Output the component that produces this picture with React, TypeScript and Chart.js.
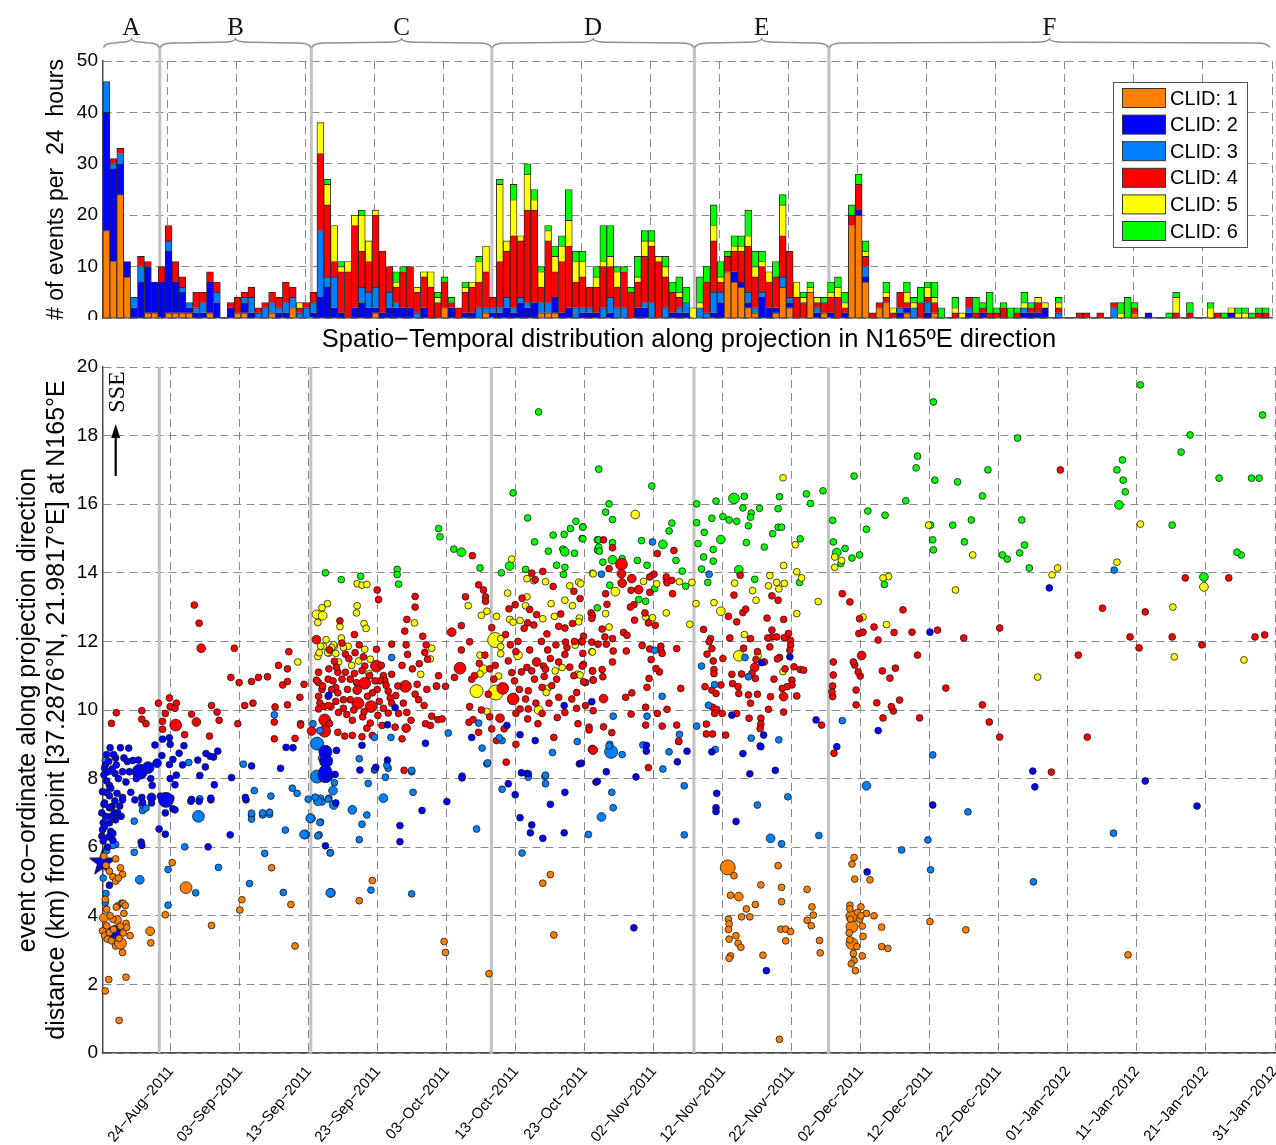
import React, { useEffect, useRef } from "react";
import { Chart, registerables } from "chart.js";

Chart.register(...registerables);

const SANS = "'Liberation Sans', Arial, Helvetica, sans-serif";
const SERIF = "'Liberation Serif', 'Times New Roman', serif";
Chart.defaults.font.family = SANS;
Chart.defaults.color = "#000";

// Time axis: day 0 = 24-Aug-2011 (UTC)
const BASE_DATE_UTC = Date.UTC(2011, 7, 24);
const MONTHS = ["Jan", "Feb", "Mar", "Apr", "May", "Jun", "Jul", "Aug", "Sep", "Oct", "Nov", "Dec"];
const DATE_TICKS = [0, 10, 20, 30, 40, 50, 60, 70, 80, 90, 100, 110, 120, 130, 140, 150, 160];
const HIST_X_MIN = -9.4;
const MAP_X_MIN = -9.83;
const X_MAX = 160;

const CLID_LABELS = ["CLID: 1", "CLID: 2", "CLID: 3", "CLID: 4", "CLID: 5", "CLID: 6"];
const CLID_COLORS = ["#FF8000", "#0000FF", "#0080FF", "#FF0000", "#FFFF00", "#00FF00"];

const MAP_TITLE = "Spatio\u2212Temporal distribution along projection in N165\u00BAE direction";

// Section boundaries (days) and their labels
const SECTION_BOUNDS = [-1.67, 20.29, 46.45, 75.8, 95.29];
const SECTION_LABELS = ["A", "B", "C", "D", "E", "F"];

// 24-hour bins, first bin starts at FIRST_BIN_DAY
const FIRST_BIN_DAY = -9.4;
const COUNTS_CLID1 = [
  17, 11, 24, 8, 0, 0, 1, 1, 0, 1,
  1, 1, 1, 0, 0, 1, 0, 0, 0, 1,
  1, 0, 0, 0, 1, 0, 0, 2, 0, 0,
  0, 0, 0, 0, 0, 0, 0, 0, 0, 1,
  0, 0, 0, 0, 0, 0, 0, 0, 0, 2,
  0, 0, 0, 0, 0, 1, 0, 0, 0, 0,
  0, 0, 0, 1, 1, 1, 0, 0, 0, 0,
  0, 0, 0, 0, 0, 0, 0, 0, 0, 0,
  0, 0, 0, 0, 0, 0, 0, 0, 0, 0,
  9, 7, 6, 2, 1, 0, 0, 1, 6, 2,
  0, 0, 5, 0, 1, 0, 0, 0, 18, 20,
  7, 0, 2, 3, 0, 0, 1, 0, 0, 0,
  1, 0, 0, 0, 0, 0, 0, 0, 0, 0,
  0, 0, 0, 0, 0, 0, 0, 0, 0, 0,
  0, 0, 0, 0, 0, 0, 0, 0, 0, 1,
  0, 0, 0, 0, 0, 0, 0, 0, 0, 0,
  0, 0, 0, 0, 0, 0, 0, 0, 0,
];
const COUNTS_CLID2 = [
  23, 18, 6, 3, 2, 7, 9, 6, 7, 12,
  6, 4, 1, 1, 1, 6, 3, 0, 2, 0,
  2, 1, 0, 0, 0, 1, 1, 0, 0, 0,
  1, 4, 6, 2, 1, 0, 2, 3, 2, 1,
  1, 2, 2, 2, 2, 0, 2, 0, 0, 0,
  2, 0, 1, 1, 0, 0, 1, 1, 2, 1,
  3, 2, 3, 0, 0, 3, 1, 2, 0, 1,
  1, 1, 0, 1, 0, 0, 0, 2, 2, 0,
  0, 0, 1, 1, 1, 0, 0, 0, 1, 3,
  0, 2, 1, 1, 0, 4, 2, 1, 0, 1,
  0, 0, 0, 1, 0, 1, 0, 1, 0, 1,
  1, 0, 0, 0, 0, 1, 1, 0, 0, 1,
  0, 0, 0, 0, 0, 1, 0, 1, 0, 0,
  0, 0, 0, 1, 1, 1, 2, 0, 0, 0,
  0, 0, 0, 0, 0, 0, 0, 0, 0, 0,
  0, 1, 0, 0, 0, 0, 0, 0, 0, 0,
  0, 0, 0, 1, 0, 0, 0, 0, 0,
];
const COUNTS_CLID3 = [
  6, 1, 2, 0, 2, 3, 0, 0, 0, 2,
  0, 1, 1, 1, 2, 0, 2, 0, 0, 0,
  1, 3, 1, 2, 2, 1, 2, 2, 1, 2,
  2, 13, 2, 6, 0, 0, 0, 3, 3, 4,
  0, 3, 1, 0, 0, 1, 0, 0, 0, 0,
  0, 0, 0, 0, 2, 1, 1, 1, 2, 1,
  1, 1, 0, 2, 2, 0, 0, 0, 2, 1,
  1, 0, 2, 3, 2, 2, 0, 0, 1, 3,
  0, 2, 0, 1, 2, 0, 2, 1, 4, 2,
  0, 0, 0, 2, 1, 1, 0, 0, 2, 1,
  0, 0, 0, 1, 0, 0, 0, 0, 0, 0,
  2, 0, 0, 0, 0, 1, 0, 2, 0, 2,
  0, 0, 0, 0, 0, 1, 0, 0, 0, 0,
  0, 0, 0, 1, 0, 0, 0, 0, 1, 0,
  0, 0, 0, 0, 0, 0, 2, 0, 0, 0,
  0, 0, 0, 0, 0, 0, 0, 0, 0, 0,
  0, 0, 0, 0, 0, 0, 0, 0, 0,
];
const COUNTS_CLID4 = [
  0, 1, 1, 0, 0, 2, 1, 0, 3, 3,
  4, 2, 0, 3, 2, 2, 2, 0, 1, 3,
  1, 2, 1, 1, 2, 2, 4, 2, 1, 1,
  2, 15, 14, 3, 8, 9, 16, 7, 6, 14,
  12, 5, 3, 7, 8, 4, 6, 6, 3, 5,
  1, 2, 4, 5, 5, 7, 2, 9, 9, 14,
  11, 18, 18, 3, 12, 5, 10, 12, 5, 6,
  4, 5, 8, 6, 4, 7, 5, 5, 9, 11,
  11, 6, 4, 2, 0, 0, 0, 6, 10, 2,
  3, 4, 6, 9, 6, 5, 5, 6, 8, 9,
  4, 3, 0, 1, 2, 3, 4, 1, 2, 5,
  2, 1, 1, 1, 1, 3, 1, 0, 3, 1,
  2, 0, 0, 1, 0, 2, 1, 1, 1, 1,
  2, 0, 1, 0, 1, 2, 0, 0, 1, 0,
  0, 1, 1, 0, 1, 0, 1, 0, 0, 1,
  0, 0, 0, 0, 0, 1, 0, 1, 0, 0,
  0, 1, 0, 0, 0, 0, 0, 1, 1,
];
const COUNTS_CLID5 = [
  0, 0, 0, 0, 0, 0, 0, 0, 0, 0,
  0, 0, 0, 0, 0, 0, 0, 0, 0, 0,
  0, 0, 0, 0, 0, 0, 0, 0, 1, 0,
  0, 6, 4, 7, 1, 2, 2, 7, 4, 1,
  0, 0, 1, 0, 0, 1, 1, 3, 1, 0,
  0, 0, 1, 1, 4, 5, 0, 15, 2, 7,
  1, 7, 2, 3, 2, 3, 3, 5, 4, 3,
  0, 2, 1, 2, 3, 0, 0, 1, 3, 1,
  1, 2, 0, 1, 0, 2, 1, 0, 3, 1,
  0, 1, 1, 2, 2, 1, 2, 0, 6, 0,
  3, 1, 1, 1, 0, 1, 2, 1, 0, 0,
  1, 0, 0, 1, 1, 0, 2, 1, 0, 2,
  1, 0, 0, 1, 1, 0, 0, 0, 0, 0,
  0, 0, 0, 1, 0, 1, 1, 0, 1, 0,
  0, 0, 0, 0, 0, 0, 0, 1, 0, 0,
  0, 0, 0, 0, 0, 3, 0, 0, 0, 0,
  2, 0, 0, 1, 1, 1, 0, 0, 0,
];
const COUNTS_CLID6 = [
  0, 0, 0, 0, 0, 0, 0, 0, 0, 0,
  0, 0, 0, 0, 0, 0, 0, 0, 0, 0,
  0, 0, 0, 0, 0, 0, 0, 0, 0, 0,
  0, 0, 1, 0, 1, 0, 0, 1, 0, 0,
  0, 0, 2, 1, 0, 0, 0, 0, 1, 1,
  1, 0, 1, 0, 1, 0, 0, 1, 0, 3,
  0, 2, 2, 1, 1, 2, 2, 6, 2, 2,
  0, 2, 7, 6, 1, 1, 1, 4, 2, 2,
  0, 2, 2, 3, 3, 0, 5, 3, 4, 3,
  1, 2, 2, 5, 3, 2, 0, 3, 2, 0,
  0, 1, 1, 0, 1, 2, 2, 2, 2, 2,
  2, 0, 0, 2, 0, 0, 2, 1, 3, 1,
  3, 2, 0, 2, 0, 0, 3, 1, 4, 1,
  1, 2, 1, 2, 1, 0, 0, 0, 1, 0,
  0, 0, 0, 0, 0, 0, 0, 2, 4, 1,
  0, 0, 0, 0, 1, 1, 0, 2, 0, 0,
  1, 0, 1, 0, 1, 1, 1, 1, 1,
];

// Events: [day, distance km, magnitude (optional, default 1.5)]
const EVENTS_CLID1 = [
  [-8.0, 5.66], [-7.3, 5.4], [-7.0, 5.21], [-8.4, 5.14], [-8.0, 5.01], [-8.9, 5.3], [-9.7, 5.74], [-9.4, 5.47], [-7.6, 5.1],
  [-9.5, 4.48], [-9.3, 4.19], [-6.9, 4.36], [-6.6, 4.3], [-6.8, 4.07], [-9.7, 3.94, 2.2], [-7.8, 3.88, 2.2], [-6.5, 3.78],
  [-6.4, 3.66], [-7.3, 3.7], [-8.4, 3.9], [-9.9, 3.56], [-9.6, 3.42], [-9.2, 3.32], [-8.6, 3.27], [-8.0, 3.12], [-7.3, 3.2, 2.8],
  [-7.0, 2.93], [-5.9, 3.42], [-7.5, 3.34], [-8.9, 3.51], [-9.3, 3.71], [-8.8, 4.0], [-7.9, 4.25], [-8.3, 3.6], [-6.9, 3.5],
  [-3.0, 3.55, 2.2], [-2.9, 3.21], [-9.0, 2.14], [-6.5, 2.21], [-9.5, 1.81], [-7.5, 0.95],
  [0.2, 5.55], [2.2, 4.82, 2.8], [14.6, 5.4], [10.3, 4.47], [10.0, 4.17], [-0.8, 4.03], [5.9, 3.72], [17.4, 4.33], [18.0, 3.12],
  [29.2, 5.03], [27.3, 4.44], [39.6, 3.25], [39.8, 2.93], [46.1, 2.31], [55.0, 5.2], [53.9, 4.95], [55.5, 3.44],
  [80.7, 5.41, 3.3], [81.6, 5.17], [81.1, 4.6], [82.3, 4.56, 2.2], [85.5, 4.9], [84.7, 4.33], [83.4, 4.2], [82.7, 3.97],
  [83.9, 3.97], [80.8, 3.9], [80.9, 3.76], [80.8, 3.6], [80.9, 3.32], [81.9, 3.42], [82.2, 3.2], [82.6, 3.08], [81.1, 2.83],
  [80.9, 2.76], [85.8, 2.85], [88.0, 5.46], [88.5, 4.83], [88.5, 4.41], [88.4, 3.61], [89.1, 3.61], [89.8, 3.54], [89.1, 3.27],
  [92.2, 4.77], [92.9, 4.26], [93.1, 4.02], [92.2, 3.87], [92.8, 3.71], [94.0, 3.28], [94.1, 2.92], [88.2, 0.4],
  [98.7, 3.98, 2.8], [98.7, 3.68, 2.8], [98.7, 3.19, 2.8], [99.0, 5.7], [98.7, 5.51], [99.1, 5.07], [100.0, 4.26], [100.8, 4.07],
  [101.9, 4.0], [103.0, 3.67], [103.0, 3.1], [103.9, 3.05], [100.2, 2.83], [99.2, 2.4], [98.4, 4.31], [98.4, 4.2], [98.5, 3.9],
  [99.5, 4.1], [99.8, 3.9], [98.3, 3.5], [98.4, 3.3], [98.9, 2.9], [99.0, 2.7], [99.4, 3.1], [100.2, 3.7], [100.3, 3.4],
  [98.6, 2.6], [100.0, 4.0], [101.3, 5.05], [110.0, 3.83], [115.2, 3.59], [138.7, 2.86],
];
const EVENTS_CLID2 = [
  [-9.3, 8.7], [-8.5, 8.28], [-9.7, 8.11], [-8.1, 8.15], [-7.6, 8.0], [-9.3, 7.93], [-8.9, 7.8], [-8.7, 7.72], [-9.9, 7.62],
  [-8.9, 7.5], [-7.8, 7.57], [-7.0, 7.45], [-9.6, 7.29], [-8.5, 7.19], [-7.4, 7.2], [-5.5, 8.53], [-4.7, 8.54], [-6.1, 8.89],
  [-7.3, 8.9], [-2.9, 8.0], [-2.7, 7.8], [-4.2, 7.45], [-2.8, 7.45, 2.2], [-1.5, 7.49], [-0.1, 8.0], [0.6, 7.82], [-0.2, 8.41],
  [-1.3, 8.67], [-2.3, 8.98], [-1.2, 9.15], [-0.2, 9.19], [-0.1, 9.0], [1.9, 8.96], [1.2, 8.74], [0.3, 8.56], [0.0, 7.43],
  [0.3, 7.12], [-4.5, 8.2, 3.3], [-3.3, 8.32, 2.8], [-2.0, 8.45, 2.2], [-0.7, 7.38, 3.3],
  [-9.7, 7.25], [-8.9, 7.15], [-10.0, 7.0], [-9.4, 6.9], [-9.8, 6.71], [-8.9, 6.71], [-9.9, 6.51], [-8.7, 6.46], [-10.0, 6.32],
  [-9.8, 6.18], [-8.4, 6.4], [-8.0, 6.8], [-8.6, 6.9], [-7.0, 7.38], [-5.2, 7.38], [-2.8, 7.29], [-4.1, 7.3], [-0.8, 7.0],
  [0.6, 7.09], [2.9, 7.34], [4.1, 7.34], [5.8, 7.38], [10.9, 7.38], [-1.7, 6.53], [-0.8, 6.38], [-4.3, 6.15], [-4.2, 6.05],
  [5.4, 6.01], [8.6, 6.36], [-8.9, 4.89], [-8.1, 3.53, 3.0], [-9.5, 8.4], [-9.0, 8.5], [-8.0, 8.6], [-7.0, 8.2], [-6.5, 7.9],
  [-6.0, 8.2], [-5.0, 8.0], [-8.2, 7.0], [-9.2, 6.0],
  [-9.6, 8.3], [-9.1, 8.2], [-8.8, 8.9], [-8.3, 8.7], [-7.9, 8.4], [-7.7, 7.0], [-9.4, 7.6], [-9.0, 6.3], [-8.4, 6.2],
  [-9.6, 6.6], [-8.1, 7.35], [-7.2, 6.9], [-6.8, 8.6], [-5.8, 7.6], [-6.3, 8.5],
  [5.1, 8.73], [3.9, 8.54], [5.0, 8.34], [6.2, 8.63], [6.8, 8.8], [5.7, 8.65], [4.2, 8.09], [6.3, 7.82], [8.8, 8.03],
  [3.0, 7.39], [5.8, 7.43], [10.8, 7.45], [11.7, 8.37], [15.9, 8.3], [16.7, 8.91], [17.7, 8.9], [1.7, 8.4], [0.8, 8.1],
  [22.4, 8.1, 3.3], [22.4, 8.78, 3.0], [22.5, 8.51, 3.0], [22.4, 8.2, 3.0], [23.9, 7.29], [23.8, 8.12], [22.4, 6.04],
  [33.2, 6.63], [33.2, 6.16], [36.4, 7.07], [40.0, 7.33], [42.2, 8.02], [27.4, 8.25], [29.7, 8.33], [31.4, 8.54], [27.7, 8.97],
  [31.4, 9.57], [36.9, 9.03], [24.0, 8.82], [32.5, 10.07], [22.9, 10.43],
  [48.9, 7.85], [49.9, 7.53], [50.6, 6.86], [52.3, 6.65], [52.1, 6.42], [53.9, 6.26], [55.0, 7.25], [57.1, 7.6], [57.0, 6.42],
  [50.8, 8.17], [51.6, 8.15], [59.2, 8.43], [61.6, 7.9], [42.2, 8.07], [43.6, 9.2], [50.6, 9.28], [51.8, 8.14], [57.0, 10.13],
  [61.0, 10.24], [48.7, 9.55], [52.8, 9.11], [59.5, 8.45], [63.1, 8.2], [61.8, 7.92], [67.4, 8.05], [68.9, 8.8], [68.9, 8.97],
  [73.4, 8.49], [74.8, 8.8], [67.1, 3.65],
  [78.4, 8.78], [79.1, 7.57], [79.0, 7.15], [79.0, 7.04], [81.9, 6.75], [82.9, 8.73], [83.9, 8.14], [85.5, 8.93], [87.6, 8.24],
  [81.3, 9.85], [85.6, 11.38], [89.7, 11.55], [85.9, 9.27], [85.4, 8.95], [93.5, 9.71], [86.3, 2.4],
  [96.5, 8.93], [100.9, 5.28], [110.4, 7.23], [124.9, 8.22], [125.2, 7.76], [141.2, 7.93], [148.7, 7.2], [110.0, 12.27],
  [127.3, 13.56], [102.5, 9.4],
];
const EVENTS_CLID3 = [
  [-9.4, 4.65], [-7.7, 4.29], [-7.1, 4.37], [-9.5, 4.38], [-5.3, 6.76], [-4.1, 7.07], [-5.3, 5.85], [-4.5, 5.05, 2.2],
  [-0.4, 5.35], [-0.4, 4.31], [-8.0, 6.08], [-8.4, 6.05], [-9.5, 8.53], [-4.2, 7.24], [-3.6, 7.14], [-9.8, 5.1], [-9.3, 5.9],
  [2.6, 8.47], [2.0, 6.01], [6.9, 5.41], [3.6, 4.67], [11.7, 6.94], [11.7, 6.82], [13.3, 6.94], [14.3, 6.96], [13.6, 5.82],
  [11.4, 4.94], [16.3, 4.68], [16.6, 6.5], [19.5, 6.37, 2.2], [21.5, 6.36], [20.3, 6.84, 2.2], [21.7, 6.73], [23.2, 4.67, 2.2],
  [23.1, 5.84], [4.0, 6.9, 2.8], [10.5, 8.42], [12.1, 7.65], [14.5, 7.49], [17.6, 7.72], [18.3, 7.57], [4.2, 7.41], [13.3, 7.0],
  [14.3, 7.02], [11.7, 6.99], [15.0, 9.86],
  [21.2, 9.02, 3.0], [21.3, 8.11], [21.7, 7.43], [22.9, 7.43], [21.2, 8.06, 3.0], [23.5, 7.65, 2.2], [23.6, 7.23, 2.2],
  [21.9, 7.32], [21.3, 7.34, 2.2], [19.9, 7.4], [20.2, 6.84, 2.2], [19.3, 6.37, 2.2], [21.3, 6.33], [21.6, 6.72], [23.1, 5.83],
  [23.1, 4.67, 2.2], [26.3, 7.09, 2.2], [27.7, 6.67], [28.4, 6.94], [27.3, 6.22], [28.6, 7.86], [30.8, 7.43, 2.2], [29.5, 8.25],
  [31.1, 8.04], [31.5, 8.3], [35.1, 7.6], [34.9, 8.2], [29.0, 4.75], [34.9, 4.64], [23.7, 7.88], [22.8, 7.4], [20.9, 7.46],
  [22.0, 8.6, 2.2], [21.6, 9.4], [20.6, 9.6], [32.0, 11.53], [31.9, 9.2], [27.3, 8.58], [29.6, 8.27], [31.3, 8.39], [34.9, 8.24],
  [29.5, 9.2],
  [44.3, 6.53], [45.8, 8.43], [50.9, 5.83], [48.0, 7.69], [54.2, 8.06], [54.3, 7.85], [51.8, 8.04], [60.5, 6.37], [40.2, 9.33],
  [45.1, 8.89], [45.9, 8.46], [48.0, 9.11], [54.3, 8.1], [55.3, 8.76], [58.9, 9.08], [44.6, 9.62], [47.6, 9.19], [62.4, 13.96],
  [69.8, 14.9], [70.1, 11.74], [71.2, 10.4], [64.1, 9.82], [69.0, 9.82], [73.7, 9.29], [63.6, 9.0],
  [63.8, 8.78, 3.0], [65.4, 8.7], [63.5, 8.95], [68.4, 8.98], [72.2, 8.78], [71.3, 8.28], [74.4, 7.79], [63.9, 7.6], [64.1, 7.15],
  [62.4, 6.88, 2.2], [74.4, 6.36],
  [76.9, 11.28], [78.0, 13.96], [83.7, 10.97], [83.2, 11.53], [76.2, 9.53], [77.9, 10.14], [78.8, 10.74], [84.1, 9.18],
  [88.1, 9.13], [97.3, 9.69], [78.9, 8.85], [85.0, 7.23], [89.4, 7.47], [86.9, 6.26, 2.2], [88.5, 6.1], [93.9, 6.34],
  [100.8, 7.79, 2.2], [110.4, 8.69], [109.7, 6.21], [105.9, 5.92], [115.5, 7.03], [125.0, 4.99], [136.7, 14.08], [136.6, 6.41],
  [110.1, 5.34],
];
const EVENTS_CLID4 = [
  [3.4, 13.06], [4.1, 12.53], [4.4, 11.8, 2.2], [9.2, 11.8], [17.1, 11.7], [15.6, 11.3], [16.9, 11.2], [8.7, 10.95], [9.9, 10.8],
  [11.7, 10.83], [12.7, 10.95], [14.0, 10.97], [16.2, 10.73], [16.9, 10.83], [19.3, 10.75], [-0.2, 10.35], [-1.8, 10.2],
  [-0.1, 10.1], [0.8, 10.2], [0.6, 10.05], [-7.9, 9.92], [-4.2, 9.98], [-0.8, 9.9], [5.9, 10.13], [6.7, 9.94], [10.7, 10.13],
  [11.9, 10.2], [15.1, 10.09], [16.9, 10.15], [-8.6, 9.61], [-4.2, 9.73], [-3.6, 9.6], [-1.2, 9.67], [0.7, 9.56, 2.8],
  [3.0, 9.88], [3.7, 9.65, 2.2], [7.0, 9.7], [9.7, 9.6], [15.0, 9.65], [18.8, 9.6], [-1.2, 9.44], [2.0, 9.28], [5.6, 9.24],
  [15.0, 9.16], [18.0, 9.17],
  [22.3, 9.71, 2.8], [20.4, 9.39, 2.2], [22.3, 9.38, 2.8], [21.1, 12.05, 2.2], [21.4, 10.8], [22.8, 10.9], [23.9, 10.65],
  [22.8, 10.4], [23.9, 10.25], [21.4, 10.4], [21.6, 10.2], [22.2, 10.1], [23.2, 10.1],
  [26.6, 12.2], [32.0, 11.92], [34.1, 11.9], [37.0, 11.9], [29.8, 11.77], [25.3, 11.63], [26.7, 11.67], [27.9, 11.55],
  [23.7, 11.42], [25.8, 11.5], [29.8, 11.28, 2.8], [34.3, 11.62], [37.2, 11.48], [36.8, 11.68],
  [22.9, 11.2], [21.4, 11.1], [24.2, 11.1], [25.3, 11.1], [26.6, 11.07], [28.1, 11.28], [30.8, 11.0], [31.0, 10.86],
  [32.0, 11.04], [34.0, 10.69, 2.8], [35.7, 10.75], [38.8, 11.0], [39.8, 10.69], [38.5, 10.7],
  [21.1, 10.87], [21.9, 10.6], [23.3, 10.6], [24.2, 10.5], [24.8, 10.9], [26.0, 10.9], [27.0, 10.58, 2.2], [28.1, 10.78, 2.8],
  [29.2, 10.5], [30.3, 10.85], [31.2, 10.72], [32.6, 10.42], [35.4, 10.46], [37.1, 10.6], [18.7, 10.37],
  [21.4, 10.03], [22.8, 10.13], [24.3, 9.93], [25.5, 9.87], [27.1, 10.2, 2.8], [29.0, 10.1, 2.8], [30.0, 9.84], [30.8, 10.05],
  [31.5, 9.91], [33.0, 9.9], [34.2, 9.93], [36.7, 10.13], [37.8, 9.82], [38.7, 9.72], [39.3, 9.74], [18.8, 9.56],
  [24.2, 9.35], [25.2, 9.24], [26.3, 9.26], [27.7, 9.22], [28.4, 9.47], [29.2, 9.26], [30.6, 9.55], [34.1, 9.47, 2.2],
  [36.9, 9.6], [37.6, 9.55], [33.5, 9.16], [33.8, 8.24],
  [29.9, 13.5], [30.1, 13.22], [35.4, 13.31], [35.4, 13.0], [34.2, 12.64], [33.9, 12.3], [36.5, 12.15], [24.5, 12.6],
  [26.0, 10.3], [27.8, 9.8], [23.0, 9.6], [28.8, 11.0], [25.0, 10.3], [26.3, 9.7], [32.5, 9.5], [31.8, 10.35], [33.5, 11.3],
  [35.0, 11.2], [29.6, 10.85], [28.9, 9.62], [24.8, 11.95], [27.3, 11.9], [23.0, 11.75],
  [22.0, 10.7], [23.5, 10.85], [25.6, 10.6], [26.9, 10.8], [28.5, 10.4], [29.9, 10.6], [31.5, 10.55], [32.9, 10.7], [33.7, 10.2],
  [35.9, 10.3], [25.0, 10.05], [26.5, 10.0], [28.0, 9.95], [30.2, 10.25], [32.0, 10.2], [34.8, 9.7], [24.0, 11.25], [27.7, 11.15],
  [30.5, 11.3], [36.0, 11.35],
  [43.7, 14.5], [44.6, 13.65], [45.3, 13.5], [45.6, 13.3], [45.6, 13.17], [42.7, 13.3], [42.1, 12.46], [40.7, 12.27, 2.2],
  [41.9, 11.22, 2.8], [41.1, 10.95], [42.1, 11.75], [43.3, 11.99], [44.7, 11.36], [43.6, 10.9], [46.0, 10.46], [43.3, 10.1],
  [43.2, 9.64], [43.8, 9.72], [44.6, 9.35], [46.5, 9.45], [47.2, 9.11], [47.7, 9.76, 2.2], [48.1, 10.63, 2.8],
  [49.6, 10.32, 2.8], [48.6, 8.48],
  [52.3, 13.99], [52.8, 13.8], [53.9, 14.04], [55.4, 13.6], [58.4, 13.46], [59.3, 13.25], [60.9, 12.83], [50.9, 13.26],
  [49.9, 13.07], [49.0, 12.95], [52.0, 12.93], [53.0, 12.78], [52.6, 12.48], [51.7, 12.54], [51.2, 12.38], [54.5, 12.22],
  [56.2, 12.44], [57.1, 12.39], [58.2, 12.52], [59.5, 11.99], [59.8, 12.15], [61.0, 11.98], [59.8, 11.33], [61.1, 11.14],
  [61.2, 10.88], [60.1, 10.8], [57.1, 11.62], [57.4, 11.82], [57.2, 11.98], [56.2, 11.4], [58.4, 11.0], [58.8, 10.51],
  [58.1, 10.32], [56.2, 10.37], [55.2, 10.71], [56.0, 9.78], [57.1, 9.93], [58.8, 10.05], [60.1, 10.13], [60.6, 9.5],
  [61.1, 8.85, 2.2], [48.9, 11.43], [49.4, 11.09], [50.8, 11.11], [51.6, 11.24], [52.3, 11.14], [53.0, 11.4, 2.2], [54.0, 11.28],
  [52.7, 10.9], [53.8, 10.66], [51.8, 10.56], [51.4, 10.32], [51.8, 10.03], [51.7, 9.74], [50.6, 10.03], [54.1, 10.98],
  [54.3, 11.19], [55.0, 11.5], [50.0, 11.7], [48.5, 12.2], [46.5, 12.4], [45.0, 10.0], [46.8, 10.9], [50.3, 12.0], [53.7, 12.0],
  [55.8, 11.9], [53.2, 9.6], [55.5, 9.2], [50.0, 9.9],
  [44.0, 11.0], [45.5, 11.6], [46.2, 11.2], [49.8, 10.85], [50.5, 10.6], [52.9, 10.2], [54.8, 10.2], [55.9, 10.9], [57.8, 11.25],
  [58.5, 12.0], [56.5, 12.8], [54.6, 11.75], [52.0, 11.75], [49.2, 11.9], [47.0, 11.3], [46.2, 9.8], [48.3, 9.45], [50.0, 9.0],
  [53.8, 9.9], [59.0, 9.6],
  [65.3, 14.25, 2.8], [65.3, 13.97, 2.2], [65.4, 13.7, 2.2], [63.5, 14.12], [66.8, 13.83, 2.2], [67.8, 13.51, 2.2], [64.0, 14.73],
  [62.7, 14.96], [69.4, 13.43], [70.0, 13.96], [71.8, 13.88], [72.7, 13.39], [72.9, 14.65], [70.5, 14.56], [71.9, 13.71],
  [72.6, 13.78], [67.1, 13.07], [66.6, 13.0], [68.7, 12.83], [69.2, 12.54], [70.2, 12.47], [67.2, 12.62], [62.9, 12.13],
  [61.1, 12.76], [61.0, 12.67], [62.5, 12.36], [64.0, 12.08], [65.6, 12.26], [66.1, 12.18], [64.1, 11.72], [63.1, 11.92],
  [61.9, 11.92], [59.6, 11.99], [59.7, 11.65], [59.6, 11.28], [61.1, 11.14], [62.5, 11.18], [62.6, 10.97], [61.2, 10.87],
  [59.8, 10.82], [64.0, 11.4], [66.0, 11.72], [68.3, 11.88], [69.4, 11.78], [69.6, 11.47], [71.0, 11.86], [71.0, 11.74],
  [71.2, 11.65], [70.8, 11.11], [70.3, 11.21], [73.3, 11.79], [69.3, 10.92], [69.0, 10.66], [66.8, 10.5], [65.9, 10.37],
  [62.7, 10.33, 2.2], [61.2, 9.98], [60.6, 9.42], [62.7, 9.51], [63.9, 9.34], [66.7, 9.88], [68.8, 10.08], [70.5, 9.9],
  [71.9, 10.02], [71.2, 9.53], [73.3, 9.56], [73.6, 9.08], [68.8, 9.56], [73.9, 10.63], [63.0, 13.39], [63.2, 13.08],
  [66.7, 13.49], [69.4, 13.88], [61.2, 8.83, 2.2], [69.2, 8.32], [73.6, 9.09],
  [77.2, 12.35], [78.2, 12.08], [78.0, 11.99], [78.4, 11.79], [77.7, 11.63], [78.6, 11.43], [78.7, 11.18], [78.7, 11.06],
  [77.4, 10.68], [78.4, 10.58], [79.0, 10.48], [79.7, 10.73], [78.5, 10.08], [79.1, 10.02], [78.8, 9.9], [79.9, 9.9],
  [77.6, 9.59], [77.6, 9.3], [78.5, 9.3], [80.4, 9.27], [80.8, 12.73], [82.0, 12.57], [82.9, 12.84], [83.3, 12.94],
  [81.6, 13.35], [82.5, 13.93], [84.0, 12.08], [85.0, 11.7], [84.8, 11.47], [84.6, 11.24, 2.2], [84.2, 11.07], [82.7, 11.05],
  [81.3, 11.04], [81.4, 10.77], [82.2, 10.68], [82.3, 10.48], [83.7, 10.44], [85.0, 10.46], [84.7, 10.92], [85.5, 9.76],
  [85.5, 9.59], [85.4, 9.46], [83.8, 9.76], [82.0, 9.9], [86.4, 12.68], [87.1, 12.33], [87.1, 12.13], [86.8, 11.84],
  [86.5, 12.1], [87.8, 12.13], [88.8, 12.64], [88.0, 13.2], [87.1, 13.33], [88.9, 12.11], [89.5, 12.23], [89.8, 12.03],
  [89.8, 11.89], [89.7, 11.74], [88.2, 11.53], [87.9, 11.49], [90.3, 11.26], [91.2, 11.18], [91.7, 11.16], [90.0, 10.87],
  [90.0, 10.73], [89.3, 10.68], [88.6, 10.63], [88.8, 10.39, 2.2], [90.7, 10.41], [86.9, 10.39], [86.6, 10.02], [88.8, 9.94],
  [94.3, 9.56], [96.1, 8.74],
  [80.0, 11.5], [81.0, 12.1], [83.0, 11.8], [86.0, 11.4], [87.4, 10.9], [89.0, 11.2], [84.0, 10.2],
  [97.3, 13.39], [98.4, 13.15], [99.8, 12.66], [99.7, 12.23], [101.9, 12.42], [100.1, 11.59, 2.2], [99.1, 11.31], [98.9, 11.4],
  [96.0, 11.4], [96.0, 11.02], [95.9, 10.7], [95.9, 10.39], [95.8, 10.53], [99.9, 10.99], [102.3, 10.21], [104.7, 9.97],
  [103.1, 11.14], [105.0, 11.22], [104.8, 12.26], [104.4, 10.1],
  [128.9, 17.0], [131.5, 11.6], [132.8, 9.21], [135.0, 12.97], [139.0, 12.13], [141.2, 12.86], [140.3, 11.81], [147.0, 13.85],
  [145.1, 12.13], [149.4, 11.9], [153.3, 13.85], [157.1, 12.13], [158.5, 12.19], [127.6, 8.19], [117.6, 10.15], [118.6, 9.65],
  [120.1, 9.21], [120.1, 12.39], [114.9, 12.1], [111.1, 12.33], [108.2, 11.6], [112.3, 10.64], [107.4, 12.27], [106.1, 12.92],
  [102.5, 12.04], [100.3, 12.27], [103.2, 9.77], [104.2, 10.93], [105.6, 10.29], [108.5, 9.77], [99.6, 11.11], [99.3, 10.58],
  [99.3, 10.15],
];
const EVENTS_CLID5 = [
  [18.4, 11.4],
  [21.1, 12.79, 2.2], [22.7, 13.1], [21.9, 12.98], [21.3, 12.55], [22.5, 12.05], [22.1, 11.86], [21.3, 11.56], [23.7, 11.86],
  [22.9, 11.66], [22.0, 12.75, 2.2], [24.5, 12.43], [24.7, 12.1], [27.0, 13.04], [26.9, 12.83], [28.0, 12.52], [28.3, 12.38],
  [27.0, 13.68], [27.7, 13.64], [28.4, 13.66], [23.6, 11.9], [21.7, 11.86], [22.7, 11.67], [21.5, 11.67], [23.9, 11.65],
  [25.7, 11.86], [27.2, 11.43], [28.7, 11.06], [28.1, 11.77], [23.3, 11.82], [25.0, 11.82], [28.9, 11.48], [35.3, 12.54],
  [37.8, 11.8], [37.6, 11.49], [36.2, 11.04], [38.5, 10.69], [24.3, 11.4], [26.2, 11.3],
  [47.0, 12.04, 3.3], [47.8, 12.08], [47.8, 11.85], [47.8, 11.64], [44.8, 11.6], [45.3, 11.19, 2.2], [44.3, 10.55, 3.0],
  [47.1, 10.51, 3.3], [50.3, 11.6, 2.2], [53.3, 10.0, 2.2], [45.8, 9.96], [48.8, 13.41], [49.4, 14.4], [51.6, 13.83],
  [52.6, 13.77], [51.6, 13.3], [51.4, 13.04], [55.1, 13.1], [57.1, 13.2], [58.2, 13.04], [54.3, 13.74], [57.8, 13.62],
  [59.1, 13.73], [49.1, 12.64], [49.6, 12.56], [50.6, 12.61], [53.9, 12.66], [55.6, 12.73], [59.2, 12.68], [61.0, 11.7],
  [58.6, 11.89], [55.7, 11.14], [56.7, 11.24], [58.9, 11.04], [54.6, 10.63], [54.4, 10.51], [61.1, 13.99], [43.1, 13.04],
  [45.0, 12.76], [45.8, 12.88], [47.2, 12.73], [44.8, 11.05], [47.5, 10.99],
  [67.3, 15.7, 2.2], [61.2, 13.97], [64.4, 13.45, 2.2], [68.5, 13.75], [71.8, 13.8], [73.7, 13.74], [70.4, 13.68], [59.4, 13.68],
  [63.0, 12.81], [63.5, 12.42], [61.1, 11.69], [59.1, 12.57], [68.8, 12.71], [69.8, 12.69], [71.8, 12.83], [59.3, 11.02],
  [75.5, 13.72], [81.7, 13.7], [84.3, 13.48], [84.8, 13.2], [76.1, 13.1], [78.7, 13.13], [79.7, 12.88, 2.2], [75.2, 12.5],
  [83.1, 12.2], [88.7, 16.77], [90.5, 14.82], [88.8, 14.21], [86.8, 13.92], [87.8, 13.72], [88.1, 13.53], [88.9, 13.69],
  [86.6, 13.62], [90.7, 14.03], [91.4, 13.85], [90.7, 12.81], [93.8, 13.16], [82.3, 11.58, 2.6], [85.1, 11.58], [88.7, 11.12],
  [100.3, 12.71], [103.7, 12.49], [104.0, 13.89], [96.2, 14.46], [97.2, 14.36], [96.2, 14.16], [109.8, 15.39], [103.2, 13.85],
  [116.2, 14.52], [127.7, 13.94], [128.5, 14.14], [140.5, 15.42], [149.7, 13.59, 2.2], [145.2, 13.0], [145.4, 11.55],
  [155.5, 11.46], [125.6, 10.96], [137.1, 14.31], [113.7, 13.5],
];
const EVENTS_CLID6 = [
  [22.4, 14.0], [24.7, 13.8], [27.5, 13.9], [32.8, 14.1], [32.8, 13.95], [33.0, 13.67],
  [38.8, 15.29], [39.0, 15.05], [41.0, 14.69], [42.1, 14.6, 2.2], [44.8, 14.14], [47.9, 14.0], [49.1, 14.2, 2.2], [51.4, 14.1],
  [49.6, 16.33], [51.7, 15.6], [52.7, 14.9], [55.4, 15.1], [57.0, 15.12], [57.9, 15.29], [58.7, 15.5], [59.7, 15.34],
  [59.6, 15.0], [54.7, 14.63], [56.8, 14.69], [57.1, 14.61, 2.2], [58.5, 14.57], [55.9, 14.22], [57.1, 14.16], [56.9, 13.95],
  [61.8, 14.96], [61.8, 14.67], [61.8, 12.98], [53.3, 18.69],
  [62.0, 17.02], [69.7, 16.53], [63.5, 16.01], [63.0, 15.77], [64.0, 15.55], [59.7, 15.33], [59.7, 14.99], [62.0, 14.96],
  [62.0, 14.75], [62.1, 14.63], [64.0, 14.88], [68.2, 14.94], [71.3, 14.83, 2.2], [72.6, 15.45], [72.2, 15.22], [73.2, 14.36],
  [74.1, 14.05], [69.0, 14.22], [67.6, 14.36], [64.0, 14.38, 2.2], [62.6, 14.31], [65.4, 14.41], [63.6, 13.64], [67.8, 13.22],
  [68.8, 13.17], [70.1, 13.54], [74.6, 13.61],
  [76.2, 16.01], [79.0, 16.09], [81.6, 16.17, 2.6], [83.1, 16.23], [82.9, 15.89], [84.1, 15.74], [84.0, 15.62], [85.3, 15.88],
  [80.9, 15.54], [82.0, 15.5], [78.4, 15.59], [80.0, 15.64], [76.2, 15.46], [77.3, 15.18], [79.7, 14.97, 2.2], [76.4, 14.85],
  [78.6, 14.68], [77.2, 14.46], [78.6, 14.34], [76.9, 14.11], [77.8, 13.72], [82.3, 14.09, 2.2], [84.6, 13.81], [83.4, 14.88],
  [83.7, 15.37], [86.0, 14.75], [87.2, 15.14], [88.0, 15.33], [88.5, 15.33], [88.2, 16.22], [88.0, 15.87], [91.2, 14.99],
  [91.1, 13.72], [92.1, 16.3], [92.7, 16.02], [94.5, 16.39],
  [99.0, 16.82], [101.0, 15.8], [103.5, 15.68], [100.8, 15.27], [95.9, 15.53], [96.0, 14.9], [96.5, 14.59, 2.2], [97.7, 14.71],
  [98.7, 14.43], [99.8, 14.52], [97.1, 14.27], [103.4, 13.66],
  [110.5, 18.98], [108.0, 17.06], [108.2, 17.4], [110.7, 16.7], [110.1, 15.39], [110.4, 14.96], [110.5, 14.67], [113.3, 15.39],
  [114.0, 16.65], [117.6, 16.24], [118.4, 17.0], [122.7, 17.93], [123.3, 15.54], [123.7, 14.81], [123.0, 14.58], [124.4, 14.14],
  [120.5, 14.52], [121.2, 14.4], [115.0, 14.9], [116.0, 15.54], [137.1, 17.0], [137.9, 17.29], [138.0, 16.7], [138.3, 16.36],
  [137.4, 15.98, 2.2], [140.5, 19.48], [145.1, 15.39], [147.7, 18.02], [146.4, 17.52], [149.7, 13.88, 2.2], [151.9, 16.76],
  [155.1, 14.52], [154.5, 14.6], [156.6, 16.76], [157.7, 16.76], [158.2, 18.6], [106.5, 16.1],
];

// Main shock location: [day, km]
const MAINSHOCK = [-9.85, 5.59];

const CLID_COUNTS = [COUNTS_CLID1, COUNTS_CLID2, COUNTS_CLID3, COUNTS_CLID4, COUNTS_CLID5, COUNTS_CLID6];
const CLID_EVENTS = [EVENTS_CLID1, EVENTS_CLID2, EVENTS_CLID3, EVENTS_CLID4, EVENTS_CLID5, EVENTS_CLID6];

function formatDay(v: number): string {
  const d = new Date(BASE_DATE_UTC + Math.round(v) * 86400000);
  const dd = String(d.getUTCDate()).padStart(2, "0");
  return `${dd}\u2212${MONTHS[d.getUTCMonth()]}\u2212${d.getUTCFullYear()}`;
}

function radiusForMagnitude(m?: number): number {
  const mm = typeof m === "number" ? m : 1.5;
  return 3.4 + 1.7 * Math.pow(Math.max(0, mm - 1.5), 1.5);
}

function makeStarImage(outer: number, fill: string): HTMLCanvasElement {
  const size = Math.ceil(outer * 2 + 4);
  const c = document.createElement("canvas");
  c.width = size;
  c.height = size;
  const g = c.getContext("2d")!;
  const cx = size / 2;
  const cy = size / 2 + outer * 0.095;
  const inner = outer * 0.4;
  g.beginPath();
  for (let i = 0; i < 10; i++) {
    const r = i % 2 === 0 ? outer : inner;
    const a = -Math.PI / 2 + (i * Math.PI) / 5;
    g.lineTo(cx + r * Math.cos(a), cy + r * Math.sin(a));
  }
  g.closePath();
  g.fillStyle = fill;
  g.fill();
  g.lineWidth = 1;
  g.strokeStyle = "#000";
  g.stroke();
  return c;
}

const GRID_COLOR = "#8a8a8a";
const GRID_DASH = [8, 5];
const AXIS_COLOR = "#4a4a4a";

// Grey vertical separators between sections
const sectionLinesPlugin = {
  id: "sectionLines",
  beforeDatasetsDraw(chart: any, _args: any, opts: any) {
    const { ctx, chartArea, scales } = chart;
    const top = typeof opts.lineTop === "number" ? opts.lineTop : chartArea.top;
    ctx.save();
    ctx.strokeStyle = "#c2c2c2";
    ctx.lineWidth = 3;
    for (const b of SECTION_BOUNDS) {
      const x = scales.x.getPixelForValue(b + (opts.shift || 0));
      ctx.beginPath();
      ctx.moveTo(x, top);
      ctx.lineTo(x, chartArea.bottom);
      ctx.stroke();
    }
    ctx.restore();
  },
};

function drawBrace(ctx: CanvasRenderingContext2D, x1: number, x2: number, y: number) {
  const xm = (x1 + x2) / 2;
  const q = Math.min(14, (x2 - x1) / 5);
  ctx.beginPath();
  ctx.moveTo(x1, y + 4.5);
  ctx.quadraticCurveTo(x1 + 1.5, y, x1 + q, y);
  ctx.lineTo(xm - q, y - 0.8);
  ctx.quadraticCurveTo(xm - 1.5, y - 0.8, xm, y - 4);
  ctx.quadraticCurveTo(xm + 1.5, y - 0.8, xm + q, y - 0.8);
  ctx.lineTo(x2 - q, y);
  ctx.quadraticCurveTo(x2 - 1.5, y, x2, y + 4.5);
  ctx.stroke();
}

// Curly braces with section letters above the histogram
const sectionBracesPlugin = {
  id: "sectionBraces",
  afterDraw(chart: any, _args: any, opts: any) {
    const { ctx, chartArea, scales } = chart;
    const edges = [chartArea.left, ...SECTION_BOUNDS.map((b) => scales.x.getPixelForValue(b + (opts.shift || 0))), chartArea.right - 2];
    ctx.save();
    ctx.strokeStyle = "#8f8f8f";
    ctx.lineWidth = 1.6;
    ctx.fillStyle = "#111";
    ctx.font = `25px ${SERIF}`;
    ctx.textAlign = "center";
    ctx.textBaseline = "alphabetic";
    for (let i = 0; i < SECTION_LABELS.length; i++) {
      const x1 = edges[i];
      const x2 = edges[i + 1];
      drawBrace(ctx, x1 + 0.5, x2 - 0.5, opts.braceY);
      ctx.fillText(SECTION_LABELS[i], (x1 + x2) / 2, opts.letterY);
    }
    ctx.restore();
  },
};

// Boxed legend in the upper-right of the histogram
const clidLegendPlugin = {
  id: "clidLegend",
  afterDraw(chart: any) {
    const { ctx, chartArea } = chart;
    const bx = chartArea.right - 159;
    const by = chartArea.top + 21;
    const bw = 134;
    const bh = 165;
    ctx.save();
    ctx.fillStyle = "#fff";
    ctx.fillRect(bx, by, bw, bh);
    ctx.strokeStyle = "#555";
    ctx.lineWidth = 1;
    ctx.strokeRect(bx + 0.5, by + 0.5, bw, bh);
    ctx.font = `20px ${SANS}`;
    ctx.textAlign = "left";
    ctx.textBaseline = "middle";
    for (let i = 0; i < CLID_LABELS.length; i++) {
      const cy = by + 16 + i * 26.6;
      ctx.fillStyle = CLID_COLORS[i];
      ctx.fillRect(bx + 9, cy - 9.5, 43, 19);
      ctx.strokeStyle = "#333";
      ctx.strokeRect(bx + 9.5, cy - 9.5, 43, 19);
      ctx.fillStyle = "#000";
      ctx.fillText(CLID_LABELS[i], bx + 57, cy + 1);
    }
    ctx.restore();
  },
};

// Panel title centred over the plotting area
const mapTitlePlugin = {
  id: "mapTitle",
  afterDraw(chart: any, _args: any, opts: any) {
    const { ctx, chartArea } = chart;
    ctx.save();
    ctx.fillStyle = "#000";
    ctx.font = `${opts.size}px ${SANS}`;
    ctx.textAlign = "center";
    ctx.textBaseline = "middle";
    ctx.fillText(opts.text, (chartArea.left + chartArea.right) / 2, chartArea.top - opts.gap);
    ctx.restore();
  },
};

// Direction arrow with "SSE" label in the top-left of the map panel
const directionArrowPlugin = {
  id: "directionArrow",
  afterDraw(chart: any) {
    const { ctx, chartArea } = chart;
    const x = chartArea.left + 12.7;
    const tip = chartArea.top + 57;
    const tail = chartArea.top + 109;
    ctx.save();
    ctx.strokeStyle = "#000";
    ctx.fillStyle = "#000";
    ctx.lineWidth = 2.2;
    ctx.beginPath();
    ctx.moveTo(x, tail);
    ctx.lineTo(x, tip + 10);
    ctx.stroke();
    ctx.beginPath();
    ctx.moveTo(x, tip);
    ctx.lineTo(x - 4.5, tip + 14);
    ctx.lineTo(x + 4.5, tip + 14);
    ctx.closePath();
    ctx.fill();
    ctx.translate(chartArea.left + 15, chartArea.top + 25);
    ctx.rotate(-Math.PI / 2);
    ctx.font = `24px ${SERIF}`;
    ctx.textAlign = "center";
    ctx.textBaseline = "middle";
    ctx.fillText("SSE", 0, 0);
    ctx.restore();
  },
};

const dateTicks = (scale: any) => {
  scale.ticks = DATE_TICKS.map((v) => ({ value: v }));
};

const fixYAxis = (s: any) => {
  s.width = 103;
  s.paddingTop = 0;
  s.paddingBottom = 0;
};

export default function App() {
  const histRef = useRef<HTMLCanvasElement | null>(null);
  const mapRef = useRef<HTMLCanvasElement | null>(null);

  useEffect(() => {
    if (!histRef.current || !mapRef.current) return;

    const histChart = new Chart(histRef.current, {
      type: "bar",
      data: {
        datasets: CLID_COUNTS.map((counts, i) => ({
          label: CLID_LABELS[i],
          data: counts.map((c, k) => ({ x: FIRST_BIN_DAY + k + 0.5, y: c > 0 ? c : null })),
          backgroundColor: CLID_COLORS[i],
          borderColor: "#262626",
          borderWidth: 0.9,
          grouped: false,
          barPercentage: 1,
          categoryPercentage: 1,
        })),
      },
      options: {
        animation: false,
        responsive: false,
        events: [],
        layout: { autoPadding: false, padding: { left: 0, right: 4, top: 61, bottom: 0 } },
        plugins: {
          legend: { display: false },
          tooltip: { enabled: false },
          title: { display: false },
          sectionLines: { shift: 0.5, lineTop: 46.5 },
          sectionBraces: { shift: 0.5, braceY: 43, letterY: 35 },
        } as any,
        scales: {
          x: {
            type: "linear",
            min: HIST_X_MIN,
            max: X_MAX,
            offset: false,
            afterBuildTicks: dateTicks,
            afterFit: (s: any) => {
              s.height = 2;
              s.paddingLeft = 0;
              s.paddingRight = 0;
            },
            ticks: { display: false },
            grid: { color: GRID_COLOR, lineWidth: 1, drawTicks: false, offset: false },
            border: { color: AXIS_COLOR, width: 1.5, dash: GRID_DASH },
          },
          y: {
            type: "linear",
            stacked: true,
            min: 0,
            max: 50,
            ticks: { stepSize: 10, font: { size: 19 }, color: "#000", padding: 5 },
            afterFit: fixYAxis,
            title: {
              display: true,
              text: "# of events per  24  hours",
              font: { size: 23, lineHeight: 1.2 },
              color: "#000",
              padding: { top: 43, bottom: 0 },
            },
            grid: { color: GRID_COLOR, lineWidth: 1, drawTicks: false },
            border: { color: AXIS_COLOR, width: 1.5, dash: GRID_DASH },
          },
        },
      } as any,
      plugins: [sectionLinesPlugin, sectionBracesPlugin, clidLegendPlugin],
    });

    const star = makeStarImage(14, "#0000FF");

    const mapChart = new Chart(mapRef.current, {
      type: "scatter",
      data: {
        datasets: [
          ...CLID_EVENTS.map((events, i) => ({
            label: CLID_LABELS[i],
            data: events.map((e) => ({ x: e[0], y: e[1], m: e.length > 2 ? e[2] : 1.5 })),
            backgroundColor: CLID_COLORS[i],
            borderColor: "#1a1a1a",
            borderWidth: 0.8,
            pointRadius: (ctx: any) => radiusForMagnitude(ctx.raw ? ctx.raw.m : undefined),
            clip: false,
          })),
          {
            label: "Main shock",
            data: [{ x: MAINSHOCK[0], y: MAINSHOCK[1] }],
            pointStyle: star,
            pointRadius: 14,
            clip: false,
          },
        ],
      },
      options: {
        animation: false,
        responsive: false,
        events: [],
        layout: { autoPadding: false, padding: { left: 0, right: 1, top: 47, bottom: 0 } },
        plugins: {
          legend: { display: false },
          tooltip: { enabled: false },
          title: { display: false },
          mapTitle: { text: MAP_TITLE, size: 25.5, gap: 27 },
          sectionLines: { shift: 0 },
        } as any,
        scales: {
          x: {
            type: "linear",
            min: MAP_X_MIN,
            max: X_MAX,
            afterBuildTicks: dateTicks,
            afterFit: (s: any) => {
              s.height = 92;
              s.paddingLeft = 0;
              s.paddingRight = 0;
            },
            ticks: {
              autoSkip: false,
              minRotation: 50,
              maxRotation: 50,
              padding: 10,
              font: { size: 15 },
              color: "#000",
              callback: (v: any) => formatDay(Number(v)),
            },
            grid: { color: GRID_COLOR, lineWidth: 1, drawTicks: false },
            border: { color: AXIS_COLOR, width: 1.5, dash: GRID_DASH },
          },
          y: {
            type: "linear",
            min: 0,
            max: 20,
            ticks: { stepSize: 2, font: { size: 19 }, color: "#000", padding: 5 },
            afterFit: fixYAxis,
            title: {
              display: true,
              text: [
                "event co\u2212ordinate along projection direction",
                "distance (km) from point [37.2876\u00B0N, 21.9817\u00B0E] at N165\u00B0E",
              ],
              font: { size: 25, lineHeight: 1.16 },
              color: "#000",
              padding: { top: 13.5, bottom: 0 },
            },
            grid: { color: GRID_COLOR, lineWidth: 1, drawTicks: false },
            border: { color: AXIS_COLOR, width: 1.5, dash: GRID_DASH },
          },
        },
      } as any,
      plugins: [sectionLinesPlugin, directionArrowPlugin, mapTitlePlugin],
    });

    return () => {
      histChart.destroy();
      mapChart.destroy();
    };
  }, []);

  return (
    <div style={{ position: "absolute", left: 0, top: 0, width: 1276, height: 1145, background: "#fff" }}>
      <canvas
        ref={histRef}
        width={1276}
        height={320}
        style={{ position: "absolute", left: 0, top: 0, width: 1276, height: 320 }}
      />
      <canvas
        ref={mapRef}
        width={1276}
        height={825}
        style={{ position: "absolute", left: 0, top: 320, width: 1276, height: 825 }}
      />
    </div>
  );
}
